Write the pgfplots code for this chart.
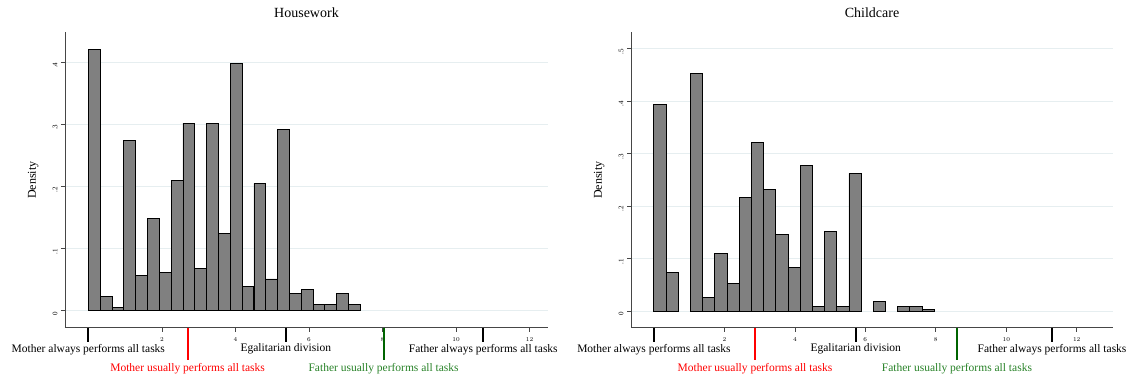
\documentclass[border=0pt]{standalone}
\usepackage{pgfplots}
\pgfplotsset{compat=1.18}
\usepackage{fontspec}
\setmainfont{Liberation Serif}
\definecolor{gridc}{RGB}{230,238,240}
\definecolor{barc}{RGB}{128,128,128}
\definecolor{axc}{RGB}{70,70,70}
\definecolor{lgreen}{RGB}{0,100,0}
\definecolor{tgreen}{RGB}{40,130,40}
\tikzset{annot/.style={font=\fontsize{11.5}{11.5}\selectfont}}
\pgfplotsset{
  hist/.style={
    scale only axis, height=295.4pt,
    axis x line*=bottom, axis y line*=left,
    axis line style={axc, line width=0.9pt, -},
    ymajorgrids, grid style={gridc, line width=0.9pt},
    xtick={2,4,6,8,10,12},
    xticklabel style={font=\fontsize{6}{6}\selectfont, yshift=-2pt},
    yticklabel style={rotate=90, anchor=south, xshift=-3pt, font=\fontsize{7}{7}\selectfont},
    tick style={axc, line width=0.6pt},
    major tick length=4pt,
    tick align=outside,
    ylabel={Density},
    ylabel style={font=\fontsize{12}{12}\selectfont, at={(axis description cs:-0.066,0.5)}, anchor=center},
    title style={font=\fontsize{14}{14}\selectfont, at={(axis description cs:0.5,1)}, anchor=center, yshift=13.3pt},
    clip=false,
    bar shift=0pt,
  },
}
\newcommand{\mk}[4]{\draw[#1, line width=2pt] (axis cs:#2,#3) -- ([yshift=-#4]axis cs:#2,#3);}
\begin{document}
\begin{tikzpicture}
\path[use as bounding box] (0,0) rectangle (1130pt,381pt);
% ---------------- Housework ----------------
\begin{axis}[hist, at={(65pt,53.3pt)}, anchor=south west, width=483pt,
  xmin=-0.634, xmax=12.5, ymin=-0.0274, ymax=0.448,
  ytick={0,0.1,0.2,0.3,0.4}, yticklabels={0,.1,.2,.3,.4},
  title={Housework}, bar width=0.3217]
\addplot[ybar, fill=barc, draw=black, line width=0.9pt] coordinates {
 (0.161,0.421) (0.483,0.0225) (0.804,0.0054) (1.126,0.274) (1.448,0.0564)
 (1.769,0.148) (2.091,0.0617) (2.413,0.210) (2.735,0.302) (3.056,0.068)
 (3.378,0.302) (3.700,0.1245) (4.021,0.398) (4.343,0.039) (4.665,0.205)
 (4.986,0.051) (5.308,0.291) (5.630,0.028) (5.952,0.034) (6.273,0.0107)
 (6.595,0.0107) (6.917,0.028) (7.238,0.0107)};
\mk{black}{0}{-0.0274}{14pt}
\mk{black}{5.37}{-0.0274}{14pt}
\mk{black}{10.74}{-0.0274}{14pt}
\mk{red}{2.70}{-0.0274}{32pt}
\mk{lgreen}{8.03}{-0.0274}{32pt}
\node[annot] at ([yshift=-21.5pt]axis cs:0,-0.0274) {Mother always performs all tasks};
\node[annot] at ([yshift=-21.5pt]axis cs:5.37,-0.0274) {Egalitarian division};
\node[annot] at ([yshift=-21.5pt]axis cs:10.74,-0.0274) {Father always performs all tasks};
\node[annot, text=red] at ([yshift=-40.5pt]axis cs:2.70,-0.0274) {Mother usually performs all tasks};
\node[annot, text=tgreen] at ([yshift=-40.5pt]axis cs:8.03,-0.0274) {Father usually performs all tasks};
\end{axis}
% ---------------- Childcare ----------------
\begin{axis}[hist, at={(631pt,53.3pt)}, anchor=south west, width=482pt,
  xmin=-0.65, xmax=13.03, ymin=-0.0318, ymax=0.531,
  ytick={0,0.1,0.2,0.3,0.4,0.5}, yticklabels={0,.1,.2,.3,.4,.5},
  title={Childcare}, bar width=0.346]
\addplot[ybar, fill=barc, draw=black, line width=0.9pt] coordinates {
 (0.173,0.394) (0.519,0.0727) (1.211,0.453) (1.557,0.0249) (1.903,0.109)
 (2.249,0.0517) (2.595,0.2156) (2.941,0.321) (3.287,0.231) (3.633,0.1467)
 (3.979,0.0836) (4.325,0.278) (4.671,0.0089) (5.017,0.151) (5.363,0.0089)
 (5.709,0.262) (6.401,0.019) (7.093,0.0089) (7.439,0.0089) (7.785,0.0038)};
\mk{black}{0}{-0.0318}{14pt}
\mk{black}{5.73}{-0.0318}{14pt}
\mk{black}{11.3}{-0.0318}{14pt}
\mk{red}{2.87}{-0.0318}{32pt}
\mk{lgreen}{8.6}{-0.0318}{32pt}
\node[annot] at ([yshift=-21.5pt]axis cs:0,-0.0318) {Mother always performs all tasks};
\node[annot] at ([yshift=-21.5pt]axis cs:5.73,-0.0318) {Egalitarian division};
\node[annot] at ([yshift=-21.5pt]axis cs:11.3,-0.0318) {Father always performs all tasks};
\node[annot, text=red] at ([yshift=-40.5pt]axis cs:2.87,-0.0318) {Mother usually performs all tasks};
\node[annot, text=tgreen] at ([yshift=-40.5pt]axis cs:8.6,-0.0318) {Father usually performs all tasks};
\end{axis}
\end{tikzpicture}
\end{document}
